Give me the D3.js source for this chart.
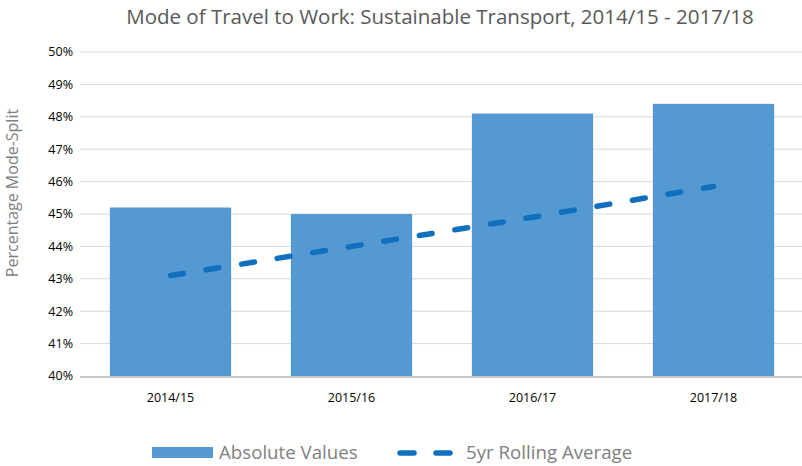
<!DOCTYPE html>
<html>
<head>
<meta charset="utf-8">
<script src="https://cdn.jsdelivr.net/npm/d3@7"></script>
<style>
  body { margin: 0; background: #fff; }
  text { font-family: "Open Sans", sans-serif; }
</style>
</head>
<body>
<svg id="chart" width="802" height="466"></svg>
<script>
const years = ["2014/15", "2015/16", "2016/17", "2017/18"]
const absolute = [45.2, 45.0, 48.1, 48.4]
const rolling = [43.1, 44.0, 44.9, 45.85]
const yTicks = [40, 41, 42, 43, 44, 45, 46, 47, 48, 49, 50]

const svg = d3.select("#chart")
const plotLeft = 80, plotRight = 802, plotTop = 52, plotBottom = 376

const x = d3.scaleBand()
  .domain(years)
  .range([plotLeft, 804])
  .paddingInner(0.33)
  .paddingOuter(0.165)
const y = d3.scaleLinear()
  .domain([40, 50])
  .range([plotBottom, plotTop])

// gridlines
svg.append("g")
  .selectAll("line")
  .data(yTicks.slice(1)).enter()
  .append("line")
  .attr("x1", plotLeft).attr("x2", plotRight)
  .attr("y1", d => y(d)).attr("y2", d => y(d))
  .attr("stroke", "#d9d9d9")
  .attr("stroke-width", 1)

// y tick labels
svg.append("g")
  .selectAll("text")
  .data(yTicks).enter()
  .append("text")
  .attr("x", 73)
  .attr("y", d => y(d))
  .attr("dy", "0.35em")
  .attr("text-anchor", "end")
  .attr("font-size", 12.5)
  .attr("fill", "#000")
  .text(d => d + "%")

// bars
svg.append("g")
  .selectAll("rect")
  .data(absolute).enter()
  .append("rect")
  .attr("x", (d, i) => x(years[i]))
  .attr("width", x.bandwidth())
  .attr("y", d => y(d))
  .attr("height", d => plotBottom - y(d))
  .attr("fill", "#5599d3")

// x axis baseline
svg.append("line")
  .attr("x1", plotLeft).attr("x2", plotRight)
  .attr("y1", plotBottom + 1).attr("y2", plotBottom + 1)
  .attr("stroke", "#c8c8c8")
  .attr("stroke-width", 2)

// x labels
svg.append("g")
  .selectAll("text")
  .data(years).enter()
  .append("text")
  .attr("x", d => x(d) + x.bandwidth() / 2)
  .attr("y", 402)
  .attr("text-anchor", "middle")
  .attr("font-size", 12.5)
  .attr("fill", "#000")
  .text(d => d)

// rolling average line
const line = d3.line()
  .x((d, i) => x(years[i]) + x.bandwidth() / 2)
  .y(d => y(d))
svg.append("path")
  .datum(rolling)
  .attr("d", line)
  .attr("fill", "none")
  .attr("stroke", "#1170bd")
  .attr("stroke-width", 5.5)
  .attr("stroke-linecap", "round")
  .attr("stroke-dasharray", "13,23")

// title
svg.append("text")
  .attr("x", 440)
  .attr("y", 24)
  .attr("text-anchor", "middle")
  .attr("font-size", 20.5)
  .attr("fill", "#595959")
  .text("Mode of Travel to Work: Sustainable Transport, 2014/15 - 2017/18")

// y axis title
svg.append("text")
  .attr("transform", "translate(18,193) rotate(-90)")
  .attr("text-anchor", "middle")
  .attr("font-size", 16)
  .attr("fill", "#7f7f7f")
  .text("Percentage Mode-Split")

// legend
const lg = svg.append("g")
lg.append("rect")
  .attr("x", 152).attr("y", 447)
  .attr("width", 61).attr("height", 11)
  .attr("fill", "#5599d3")
lg.append("text")
  .attr("x", 219).attr("y", 459)
  .attr("font-size", 18.7)
  .attr("fill", "#7f7f7f")
  .text("Absolute Values")
lg.append("line")
  .attr("x1", 400).attr("x2", 452)
  .attr("y1", 453).attr("y2", 453)
  .attr("stroke", "#1170bd")
  .attr("stroke-width", 5.5)
  .attr("stroke-linecap", "round")
  .attr("stroke-dasharray", "14,22")
lg.append("text")
  .attr("x", 466).attr("y", 459)
  .attr("font-size", 18.7)
  .attr("fill", "#7f7f7f")
  .text("5yr Rolling Average")
</script>
</body>
</html>
